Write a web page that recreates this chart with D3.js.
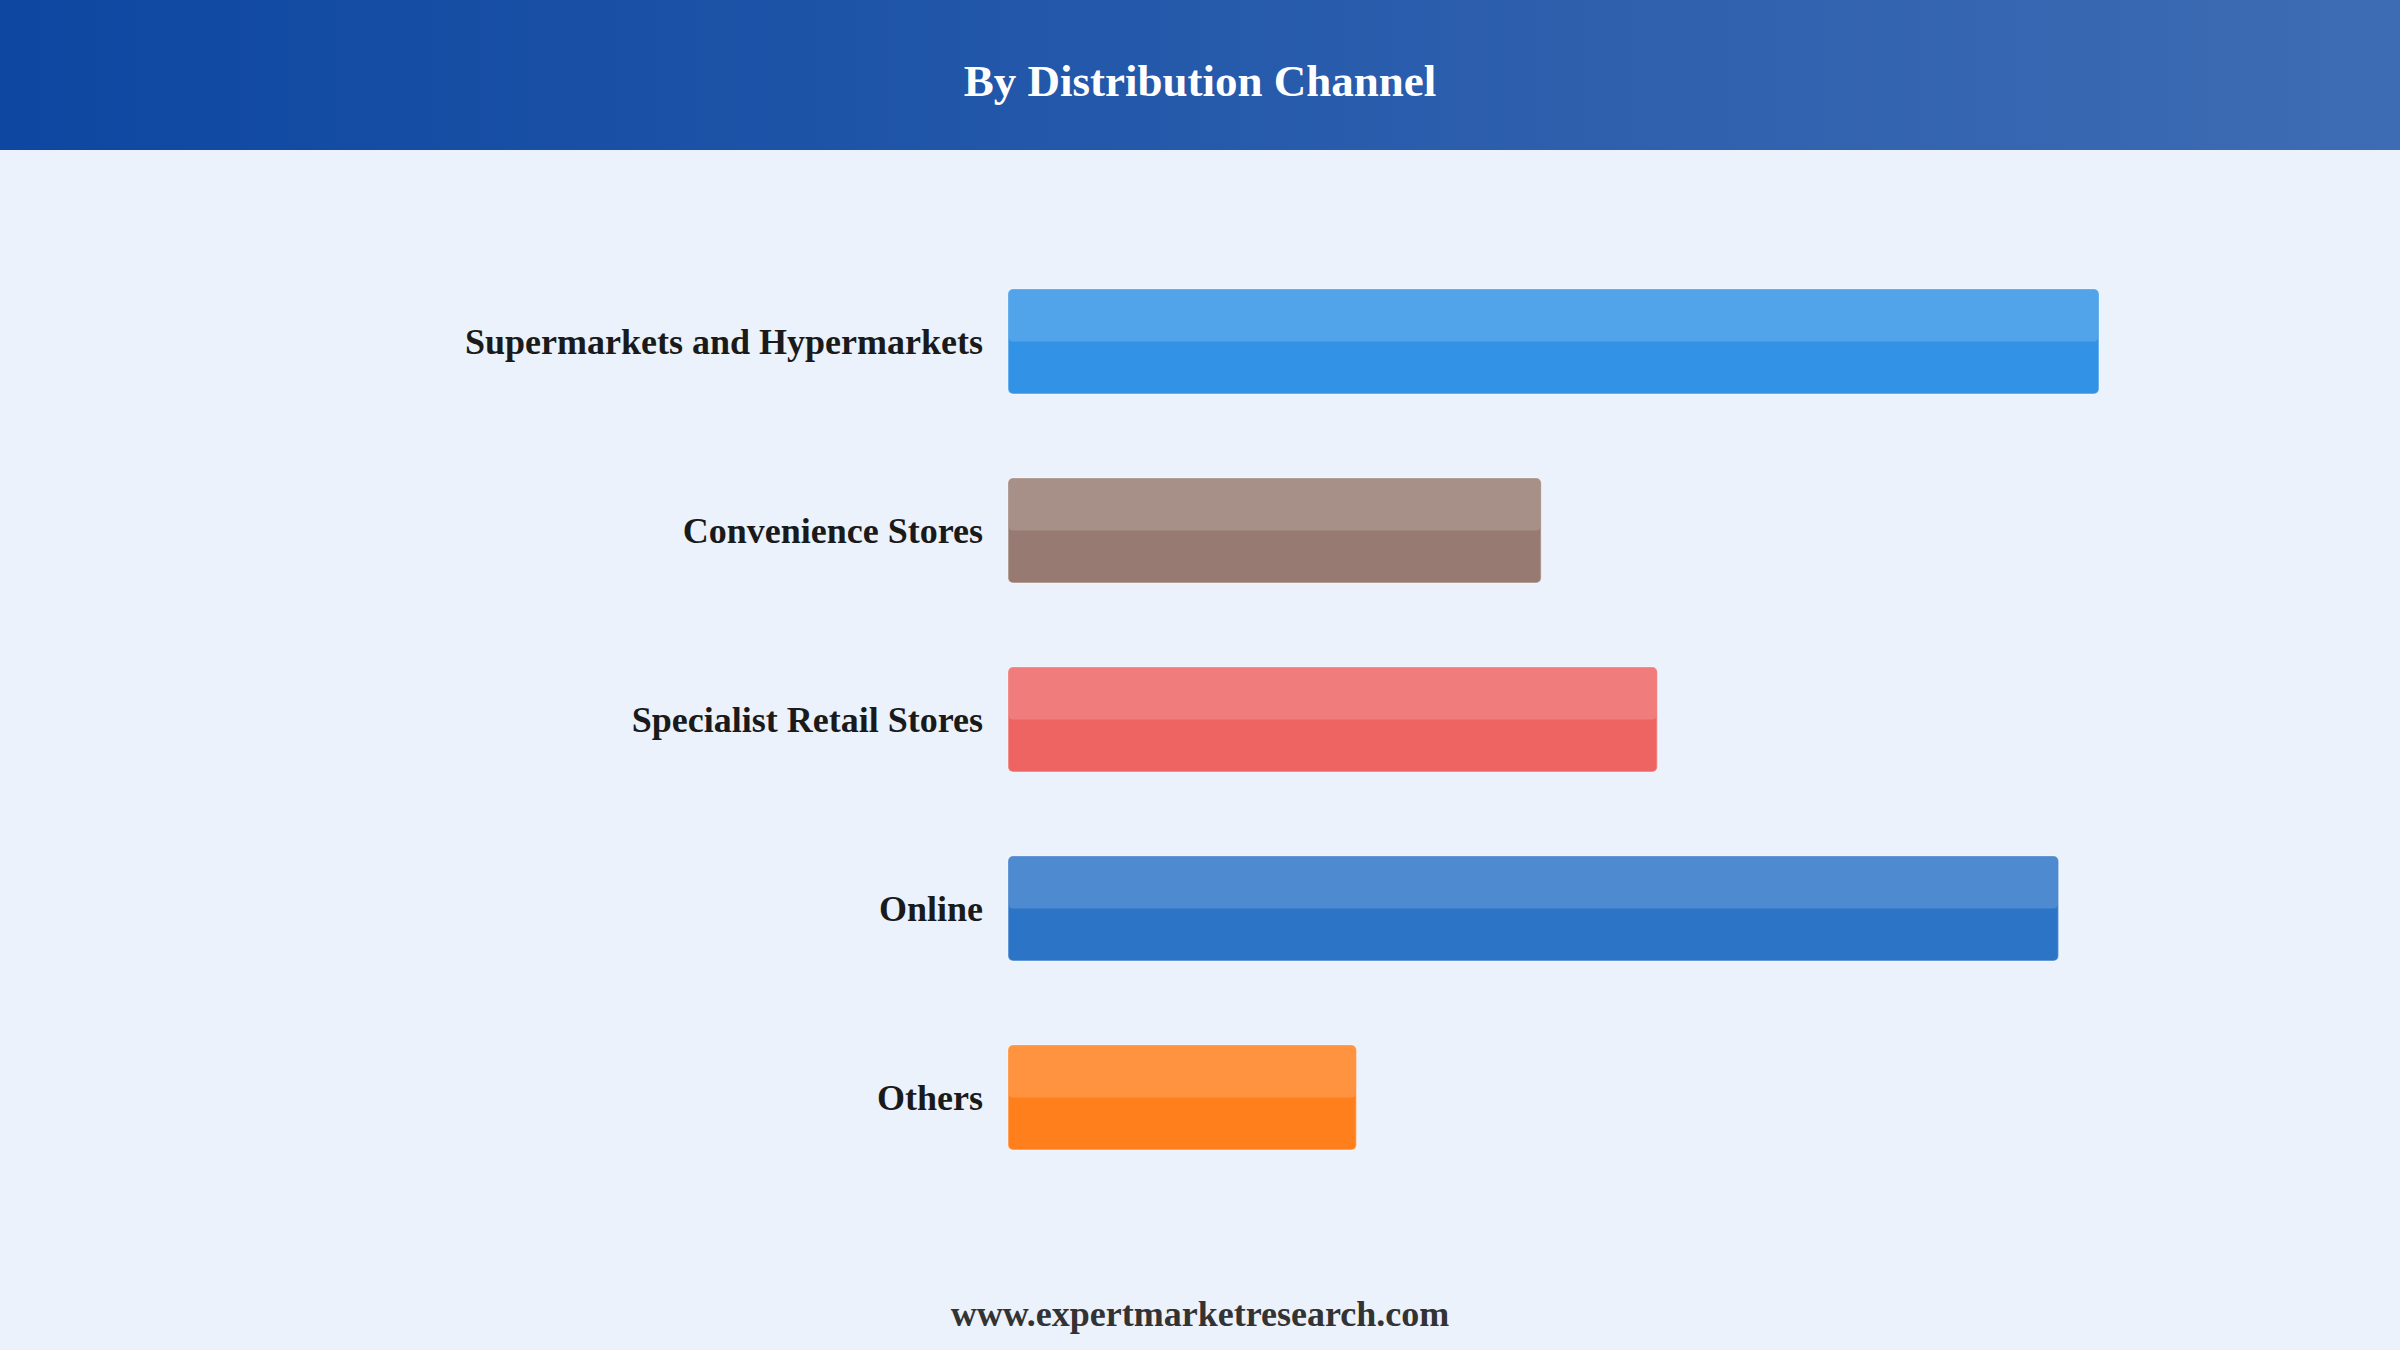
<!DOCTYPE html>
<html>
<head>
<meta charset="utf-8">
<script src="https://cdn.jsdelivr.net/npm/d3@7"></script>
<style>
  html, body { margin: 0; padding: 0; background: #ebf2fc; }
  svg { display: block; }
</style>
</head>
<body>
<script>
const width = 2400;
const height = 1350;

// data
const channels = ["Supermarkets and Hypermarkets", "Convenience Stores", "Specialist Retail Stores", "Online", "Others"];
const shares = [31.0, 15.15, 18.45, 29.85, 9.9];
const barColors = ["#3293e6", "#977b72", "#ee6462", "#2b74c6", "#ff7f1c"];
const title = "By Distribution Channel";
const footer = "www.expertmarketresearch.com";

const serif = "'Liberation Serif', 'Times New Roman', serif";

const svg = d3.select("body")
  .append("svg")
  .attr("width", width)
  .attr("height", height);

const defs = svg.append("defs");
const grad = defs.append("linearGradient")
  .attr("id", "head")
  .attr("x1", "0%").attr("x2", "100%")
  .attr("y1", "0%").attr("y2", "0%");
grad.append("stop").attr("offset", "0%").attr("stop-color", "#0d47a1");
grad.append("stop").attr("offset", "100%").attr("stop-color", "#3e6cb4");

svg.append("rect")
  .attr("width", width)
  .attr("height", height)
  .attr("fill", "#ebf2fc");

svg.append("rect")
  .attr("width", width)
  .attr("height", 150)
  .attr("fill", "url(#head)");

svg.append("text")
  .attr("x", width / 2)
  .attr("y", 96)
  .attr("text-anchor", "middle")
  .style("font-family", serif)
  .style("font-weight", "bold")
  .style("font-size", "45px")
  .attr("fill", "#ffffff")
  .text(title);

const yScale = d3.scaleBand()
  .domain(channels)
  .range([289, 1150])
  .paddingInner(84 / 189)
  .paddingOuter(0);

const xScale = d3.scaleLinear()
  .domain([0, d3.max(shares)])
  .range([1008, 2099]);

const rows = channels.map((c, i) => ({name: c, value: shares[i], color: barColors[i]}));

const g = svg.append("g").attr("class", "bars");

const row = g.selectAll("g.row")
  .data(rows)
  .enter()
  .append("g")
  .attr("class", "row");

// base bar
row.append("rect")
  .attr("x", xScale(0))
  .attr("y", (d) => yScale(d.name))
  .attr("width", (d) => xScale(d.value) - xScale(0))
  .attr("height", yScale.bandwidth())
  .attr("rx", 5)
  .attr("fill", (d) => d.color)
  .attr("stroke", "rgba(255,255,255,0.35)")
  .attr("stroke-width", 1.5);

// lighter top half
row.append("rect")
  .attr("x", xScale(0) + 1)
  .attr("y", (d) => yScale(d.name) + 1)
  .attr("width", (d) => xScale(d.value) - xScale(0) - 2)
  .attr("height", yScale.bandwidth() / 2 - 1)
  .attr("rx", 4)
  .attr("fill", "rgba(255,255,255,0.16)");

row.append("text")
  .attr("x", 983)
  .attr("y", (d) => yScale(d.name) + yScale.bandwidth() / 2)
  .attr("dy", "0.36em")
  .attr("text-anchor", "end")
  .style("font-family", serif)
  .style("font-weight", "bold")
  .style("font-size", "36px")
  .attr("fill", "#1a1a1a")
  .text((d) => d.name);

svg.append("text")
  .attr("x", width / 2)
  .attr("y", 1326)
  .attr("text-anchor", "middle")
  .style("font-family", serif)
  .style("font-weight", "bold")
  .style("font-size", "36px")
  .attr("fill", "#333333")
  .text(footer);
</script>
</body>
</html>
